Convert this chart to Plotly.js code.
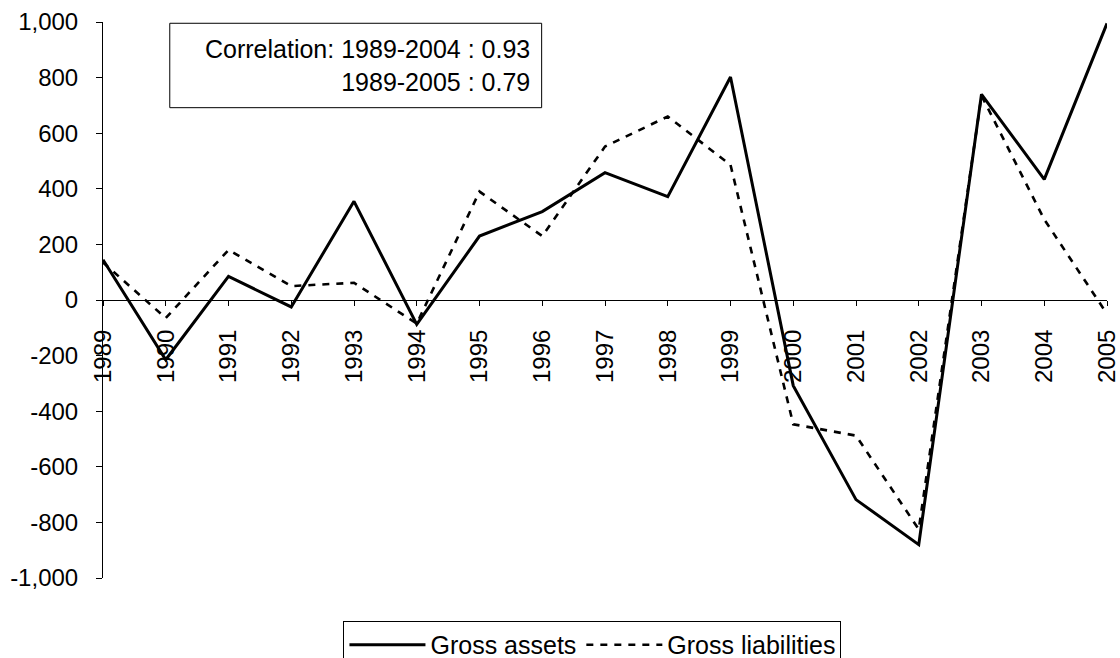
<!DOCTYPE html>
<html>
<head>
<meta charset="utf-8">
<script src="https://cdn.plot.ly/plotly-3.0.1.min.js"></script>
<style>
  html, body { margin: 0; padding: 0; background: #ffffff; }
  #chart { width: 1120px; height: 658px; }
</style>
</head>
<body>
<div id="chart"></div>
<script>
// ---- data ----
var years = [1989, 1990, 1991, 1992, 1993, 1994, 1995, 1996, 1997, 1998, 1999, 2000, 2001, 2002, 2003, 2004, 2005];
var yearLabels = ["1989", "1990", "1991", "1992", "1993", "1994", "1995", "1996", "1997", "1998", "1999", "2000", "2001", "2002", "2003", "2004", "2005"];
var grossAssets = [145, -215, 85, -25, 355, -88, 230, 318, 458, 372, 802, -308, -718, -880, 740, 434, 995];
var grossLiabilities = [135, -65, 180, 50, 62, -85, 390, 230, 552, 660, 486, -447, -488, -825, 735, 290, -50];
var yTickVals = [-1000, -800, -600, -400, -200, 0, 200, 400, 600, 800, 1000];
var yTickText = ["-1,000", "-800", "-600", "-400", "-200", "0", "200", "400", "600", "800", "1,000"];
var seriesNames = ["Gross assets", "Gross liabilities"];
var noteText = "Correlation: 1989-2004 : 0.93<br>1989-2005 : 0.79";

var FONT = "Liberation Sans, Arial, Helvetica, sans-serif";

var traces = [
  {
    x: years, y: grossAssets, name: seriesNames[0], type: "scatter", mode: "lines",
    line: { color: "#000000", width: 3 }
  },
  {
    x: years, y: grossLiabilities, name: seriesNames[1], type: "scatter", mode: "lines",
    line: { color: "#000000", width: 2.6, dash: "7px,7px" }
  }
];

var layout = {
  width: 1120,
  height: 658,
  paper_bgcolor: "#ffffff",
  plot_bgcolor: "#ffffff",
  font: { family: FONT, color: "#000000", size: 24 },
  margin: { l: 103.3, r: 13.3, t: 22, b: 80, pad: 0, autoexpand: false },
  showlegend: true,
  xaxis: {
    range: [1989, 2005],
    anchor: "free",
    position: 0.5,
    tickmode: "array",
    tickvals: years,
    ticktext: yearLabels,
    tickangle: -90,
    ticks: "outside",
    ticklen: 5,
    tickwidth: 1,
    tickcolor: "#000000",
    ticklabelstandoff: 14,
    showline: true,
    linecolor: "#000000",
    linewidth: 1,
    showgrid: false,
    zeroline: false,
    tickfont: { family: FONT, size: 24, color: "#000000" },
    fixedrange: true
  },
  yaxis: {
    range: [-1000, 1000],
    tickmode: "array",
    tickvals: yTickVals,
    ticktext: yTickText,
    ticks: "outside",
    ticklen: 6,
    tickwidth: 1,
    tickcolor: "#000000",
    ticklabelstandoff: 13,
    showline: true,
    linecolor: "#000000",
    linewidth: 1,
    showgrid: false,
    zeroline: false,
    tickfont: { family: FONT, size: 24, color: "#000000" },
    fixedrange: true
  },
  legend: {
    orientation: "h",
    x: 0.2395,
    xanchor: "left",
    y: -0.0773,
    yanchor: "top",
    bgcolor: "#ffffff",
    bordercolor: "#000000",
    borderwidth: 1,
    font: { family: FONT, size: 25, color: "#000000" },
    itemwidth: 76
  },
  shapes: [
    {
      type: "rect", xref: "paper", yref: "paper",
      x0: 0.0665, x1: 0.4369, y0: 0.8459, y1: 0.9977,
      line: { color: "#000000", width: 1 },
      fillcolor: "rgba(255,255,255,0)"
    }
  ],
  annotations: [
    {
      xref: "paper", yref: "paper",
      x: 0.4270, y: 0.9218,
      xanchor: "right", yanchor: "middle",
      align: "right",
      showarrow: false,
      text: noteText,
      font: { family: FONT, size: 25, color: "#000000" }
    }
  ]
};

Plotly.newPlot("chart", traces, layout, { displayModeBar: false, staticPlot: true });
</script>
</body>
</html>
